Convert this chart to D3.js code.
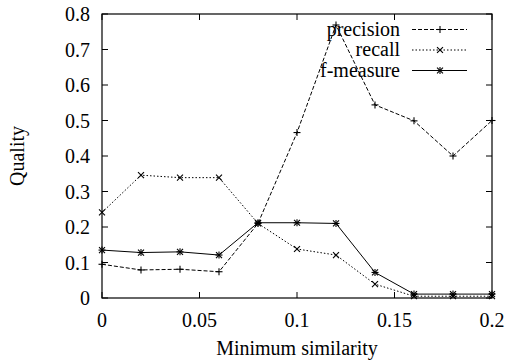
<!DOCTYPE html>
<html><head><meta charset="utf-8">
<script src="https://cdn.jsdelivr.net/npm/d3@7"></script>
<style>body{margin:0;background:#fff}svg{display:block}</style>
</head><body>
<script>
const xs = [0, 0.02, 0.04, 0.06, 0.08, 0.1, 0.12, 0.14, 0.16, 0.18, 0.2];
const precision = [0.095, 0.079, 0.081, 0.074, 0.21, 0.466, 0.769, 0.544, 0.499, 0.40, 0.5];
const recall = [0.241, 0.346, 0.339, 0.339, 0.21, 0.138, 0.121, 0.039, 0.005, 0.005, 0.005];
const fmeasure = [0.135, 0.128, 0.13, 0.121, 0.212, 0.212, 0.21, 0.072, 0.011, 0.011, 0.011];
const xTicks = [0, 0.05, 0.1, 0.15, 0.2];
const yTicks = [0, 0.1, 0.2, 0.3, 0.4, 0.5, 0.6, 0.7, 0.8];
const seriesNames = ["precision", "recall", "f-measure"];

const W = 510, H = 360;
const L = 102, R = 492, T = 14, B = 298;
const FONT = '"Liberation Serif"';
const svg = d3.select("body").append("svg").attr("width", W).attr("height", H);
const x = d3.scaleLinear().domain([0, 0.2]).range([L, R]);
const y = d3.scaleLinear().domain([0, 0.8]).range([B, T]);

function txt(xp, yp, s, anchor, size) {
  return svg.append("text").attr("x", xp).attr("y", yp).attr("text-anchor", anchor)
    .style("font-size", size + "px").style("font-family", FONT).attr("fill", "#000").text(s);
}

// frame
svg.append("rect").attr("x", L).attr("y", T).attr("width", R - L).attr("height", B - T)
  .attr("fill", "none").attr("stroke", "#000").attr("stroke-width", 1.2);

// ticks (inward, mirrored)
const tl = 6;
xTicks.forEach(v => {
  svg.append("line").attr("x1", x(v)).attr("x2", x(v)).attr("y1", B).attr("y2", B - tl).attr("stroke", "#000");
  svg.append("line").attr("x1", x(v)).attr("x2", x(v)).attr("y1", T).attr("y2", T + tl).attr("stroke", "#000");
  txt(x(v), 327, d3.format("")(v), "middle", 20);
});
yTicks.forEach(v => {
  svg.append("line").attr("x1", L).attr("x2", L + tl).attr("y1", y(v)).attr("y2", y(v)).attr("stroke", "#000");
  svg.append("line").attr("x1", R).attr("x2", R - tl).attr("y1", y(v)).attr("y2", y(v)).attr("stroke", "#000");
  txt(90, y(v) + 7, d3.format("")(v), "end", 20);
});

txt(297, 355, "Minimum similarity", "middle", 20);
svg.append("text").attr("transform", "translate(24,156) rotate(-90)").attr("text-anchor", "middle")
  .style("font-size", "20px").style("font-family", FONT).text("Quality");

const styles = [
  {data: precision, dash: "4,2", marker: "plus"},
  {data: recall, dash: "1.5,2", marker: "cross"},
  {data: fmeasure, dash: null, marker: "star"}
];

function drawMarker(g, cx, cy, type) {
  const s = 3.5;
  const seg = (x1, y1, x2, y2) => g.append("line").attr("x1", x1).attr("y1", y1).attr("x2", x2).attr("y2", y2).attr("stroke", "#000").attr("stroke-width", 1.1);
  if (type === "plus" || type === "star") { seg(cx - s, cy, cx + s, cy); seg(cx, cy - s, cx, cy + s); }
  if (type === "cross" || type === "star") { const d = s * 0.85; seg(cx - d, cy - d, cx + d, cy + d); seg(cx - d, cy + d, cx + d, cy - d); }
}

const line = d3.line().x((d, i) => x(xs[i])).y(d => y(d));
styles.forEach((st, k) => {
  const p = svg.append("path").attr("d", line(st.data)).attr("fill", "none").attr("stroke", "#000").attr("stroke-width", 1);
  if (st.dash) p.attr("stroke-dasharray", st.dash);
  const g = svg.append("g");
  st.data.forEach((v, i) => drawMarker(g, x(xs[i]), y(v), st.marker));
  // legend
  const ly = 29.5 + k * 20.5;
  txt(400, ly + 6, seriesNames[k], "end", 20);
  const lp = svg.append("line").attr("x1", 412).attr("x2", 467).attr("y1", ly).attr("y2", ly).attr("stroke", "#000");
  if (st.dash) lp.attr("stroke-dasharray", st.dash);
  drawMarker(svg, 440, ly, st.marker);
});
</script>
</body></html>
